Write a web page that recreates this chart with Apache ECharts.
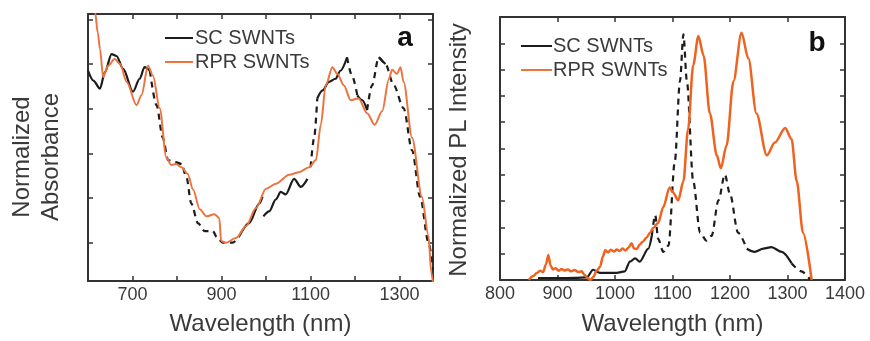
<!DOCTYPE html>
<html><head><meta charset="utf-8">
<script src="https://cdn.jsdelivr.net/npm/echarts@6/dist/echarts.min.js"></script>
<style>html,body{margin:0;padding:0;background:#fff}#c{width:870px;height:341px}</style>
</head><body><div id="c"></div><script>
// ---- Data (panel a: absorbance, y in tick units) ----
const absTicks = [0, 1, 2, 3, 4, 5];
const absXLabels = [700, 900, 1100, 1300];
const scAbs = [[600,3.85],[612,3.63],[627,3.45],[638,3.82],[653,4.22],[664,4.18],[679,3.89],[701,3.38],[716,3.67],[727,3.93],[739,3.85],[754,3.08],[768,2.35],[780,1.85],[789,1.82],[798,1.80],[810,1.76],[821,1.47],[832,0.88],[847,0.44],[862,0.26],[880,0.26],[892,0.09],[903,0],[925,0],[940,0.15],[962,0.44],[985,0.88],[992,1.03],[993,null],[994,0.59],[1007,0.70],[1022,0.97],[1033,1.14],[1044,1.08],[1063,1.43],[1078,1.25],[1093,1.43],[1096,null],[1100,1.69],[1108,2.35],[1115,3.23],[1127,3.41],[1141,3.60],[1156,3.67],[1167,3.85],[1182,4.15],[1193,3.74],[1205,3.30],[1216,3.19],[1227,2.97],[1238,3.52],[1253,4.15],[1268,4.0],[1287,3.52],[1309,3.01],[1328,2.07],[1346,1.03],[1365,0],[1375,-0.6]];
const rprAbs = [[610,7],[616,5.15],[622,4.7],[627,4.33],[634,3.71],[645,3.96],[660,4.11],[672,4.0],[687,3.6],[709,3.08],[720,3.30],[735,3.96],[746,3.74],[761,3.01],[776,1.91],[787,1.74],[798,1.76],[810,1.69],[824,1.54],[836,1.19],[851,0.75],[866,0.59],[884,0.64],[895,0.55],[899,0.04],[910,0],[933,0.11],[955,0.37],[977,0.77],[1000,1.21],[1022,1.32],[1052,1.52],[1074,1.58],[1097,1.69],[1112,1.85],[1123,2.64],[1134,3.52],[1149,3.93],[1160,3.78],[1175,3.52],[1190,3.19],[1208,3.23],[1227,2.90],[1244,2.64],[1261,2.95],[1276,3.67],[1283,3.87],[1294,3.78],[1302,3.93],[1309,3.60],[1328,2.35],[1350,1.03],[1365,0.15],[1371,-0.66],[1375,-0.9]];
const scAbsDashed = [[740,800],[815,935],[1097,1118],[1182,1200],[1228,1250],[1268,1375]];

// ---- Data (panel b: PL intensity) ----
const plXLabels = [800, 900, 1000, 1100, 1200, 1300, 1400];
const scPL = [[866,0.07],[900,0.07],[930,0.08],[951,0.1],[962,0.39],[974,0.27],[1003,0.27],[1017,0.33],[1026,0.70],[1035,0.82],[1043,0.70],[1058,1.19],[1064,1.68],[1070,2.47],[1075,1.56],[1084,1.07],[1093,1.31],[1104,4.50],[1113,7.56],[1119,9.34],[1125,7.56],[1136,3.76],[1148,1.80],[1159,1.50],[1168,1.68],[1180,3.03],[1191,4.01],[1200,3.27],[1214,1.80],[1229,1.19],[1243,1.07],[1258,1.19],[1272,1.25],[1290,1.07],[1307,0.64],[1324,0.33],[1340,0]];
const rprPL = [[850,0],[858,0.15],[864,0.27],[870,0.35],[875,0.3],[880,0.6],[884,0.95],[888,0.55],[892,0.4],[897,0.45],[902,0.35],[907,0.42],[912,0.36],[918,0.4],[924,0.33],[930,0.38],[936,0.3],[942,0.33],[947,0.2],[952,0.08],[957,0],[962,0.1],[968,0.35],[974,0.5],[979,0.9],[983,1.13],[988,1.05],[993,1.15],[998,1.08],[1003,1.16],[1008,1.1],[1013,1.2],[1018,1.12],[1023,1.22],[1029,1.4],[1033,1.2],[1038,1.18],[1043,1.35],[1048,1.45],[1055,1.62],[1061,1.8],[1067,1.99],[1075,2.17],[1084,2.78],[1095,3.52],[1101,3.33],[1110,3.03],[1119,3.76],[1127,5.72],[1136,8.17],[1145,9.28],[1154,8.54],[1165,6.33],[1177,4.74],[1184,4.25],[1194,5.11],[1206,7.56],[1220,9.40],[1232,8.42],[1246,6.33],[1264,4.74],[1278,5.23],[1296,5.78],[1307,5.36],[1316,3.76],[1327,1.80],[1342,0]];
const scPLDashed = [[1062,1232],[1300,1340]];

const FONT = 'Liberation Sans';
const AXC = '#333';
const TXT = '#3a3a3a';

function splitDashed(data, ranges) {
  const inDash = x => ranges.some(r => x >= r[0] && x <= r[1]);
  const n = data.length;
  const segDash = [];
  for (let i = 0; i < n - 1; i++) segDash.push(inDash((data[i][0] + data[i+1][0]) / 2));
  const solid = [], dashed = [];
  for (let i = 0; i < n; i++) {
    const y = data[i][1];
    const prevD = i > 0 ? segDash[i-1] : null;
    const nextD = i < n - 1 ? segDash[i] : null;
    const keepD = y !== null && (prevD === true || nextD === true);
    const keepS = y !== null && (prevD === false || nextD === false);
    dashed.push([data[i][0], keepD ? y : '-']);
    solid.push([data[i][0], keepS ? y : '-']);
  }
  return { solid, dashed };
}
function clean(data){ return data.map(p => [p[0], p[1] === null ? '-' : p[1]]); }

const scA = splitDashed(scAbs, scAbsDashed);
const scB = splitDashed(scPL, scPLDashed);

function xAxis(grid, min, max, pos, showLabel, labels) {
  return {
    type: 'value', gridIndex: grid, min, max, interval: 100, position: pos,
    axisLine: { show: true, onZero: false, lineStyle: { color: AXC, width: 2 } },
    axisTick: { show: true, inside: true, length: 5, lineStyle: { color: AXC, width: 1.5 } },
    axisLabel: { show: showLabel, margin: 5, fontFamily: FONT, fontSize: 18, color: TXT,
      formatter: v => labels.indexOf(v) >= 0 ? String(v) : '' },
    splitLine: { show: false }
  };
}
function yAxis(grid, min, max, pos, ticks, interval) {
  const ax = {
    type: 'value', gridIndex: grid, min, max, position: pos,
    axisLine: { show: true, onZero: false, lineStyle: { color: AXC, width: 2 } },
    axisTick: { show: true, inside: true, length: 5, lineStyle: { color: AXC, width: 1.5 } },
    axisLabel: { show: false },
    splitLine: { show: false }
  };
  if (ticks) ax.axisTick.customValues = ticks;
  if (interval) ax.interval = interval;
  return ax;
}
function line(name, data, xi, yi, color, width, type) {
  return { name, type: 'line', xAxisIndex: xi, yAxisIndex: yi, data, color,
    showSymbol: false, symbol: 'none', smooth: 0.3, smoothMonotone: 'x',
    lineStyle: { color, width, type: type || 'solid', dashOffset: 0 }, clip: true };
}

const BLACK = '#1c1c1c', ORA = '#ec7440', ORB = '#f0621f';
const chart = echarts.init(document.getElementById('c'), null, { renderer: 'canvas' });
chart.setOption({
  animation: false,
  backgroundColor: '#fff',
  grid: [
    { left: 88, top: 14, width: 345, height: 272 },
    { left: 500, top: 17, width: 345, height: 272 }
  ],
  xAxis: [
    Object.assign(xAxis(0, 600, 1375, 'bottom', true, absXLabels), { name: 'Wavelength (nm)', nameLocation: 'middle', nameGap: 31, nameTextStyle: { fontFamily: FONT, fontSize: 24, color: TXT } }),
    xAxis(0, 600, 1375, 'top', false, []),
    Object.assign(xAxis(1, 800, 1400, 'bottom', true, plXLabels), { name: 'Wavelength (nm)', nameLocation: 'middle', nameGap: 32, nameTextStyle: { fontFamily: FONT, fontSize: 24, color: TXT } }),
    xAxis(1, 800, 1400, 'top', false, [])
  ],
  yAxis: [
    yAxis(0, -0.857, 5.12, 'left', absTicks),
    yAxis(0, -0.857, 5.12, 'right', absTicks),
    yAxis(1, 0, 10, 'left', null, 1),
    yAxis(1, 0, 10, 'right', null, 1)
  ],
  legend: [
    { left: 160, top: 23, orient: 'vertical', itemGap: 4, itemWidth: 28, itemHeight: 2, icon: 'rect',
      data: ['SC SWNTs', 'RPR SWNTs'], textStyle: { fontFamily: FONT, fontSize: 20, color: TXT, padding: [0,0,0,-3] }, selectedMode: false },
    { left: 516, top: 31, orient: 'vertical', itemGap: 4, itemWidth: 31, itemHeight: 2, icon: 'rect',
      data: ['SC SWNTs', 'RPR SWNTs'], textStyle: { fontFamily: FONT, fontSize: 20, color: TXT, padding: [0,0,0,-4] }, selectedMode: false }
  ],
  graphic: [
    { type: 'text', x: 22, y: 157, rotation: Math.PI / 2, style: { text: 'Normalized', font: '24px "Liberation Sans"', fill: TXT, textAlign: 'center', textVerticalAlign: 'middle' } },
    { type: 'text', x: 51, y: 157, rotation: Math.PI / 2, style: { text: 'Absorbance', font: '24px "Liberation Sans"', fill: TXT, textAlign: 'center', textVerticalAlign: 'middle' } },
    { type: 'text', x: 459, y: 150, rotation: Math.PI / 2, style: { text: 'Normalized PL Intensity', font: '24px "Liberation Sans"', fill: TXT, textAlign: 'center', textVerticalAlign: 'middle' } },
    { type: 'text', x: 405, y: 38, style: { text: 'a', font: 'bold 28px "Liberation Sans"', fill: '#111', textAlign: 'center', textVerticalAlign: 'middle' } },
    { type: 'text', x: 817, y: 43, style: { text: 'b', font: 'bold 28px "Liberation Sans"', fill: '#111', textAlign: 'center', textVerticalAlign: 'middle' } }
  ],
  series: [
    line('SC SWNTs', scA.solid, 0, 0, BLACK, 2.2),
    line('SC SWNTs', scA.dashed, 0, 0, BLACK, 2.2, [6, 5]),
    line('RPR SWNTs', clean(rprAbs), 0, 0, ORA, 2),
    line('SC SWNTs', scB.solid, 2, 2, BLACK, 2.2),
    line('SC SWNTs', scB.dashed, 2, 2, BLACK, 2.2, [6, 5]),
    line('RPR SWNTs', clean(rprPL), 2, 2, ORB, 2.5)
  ]
});
</script></body></html>
